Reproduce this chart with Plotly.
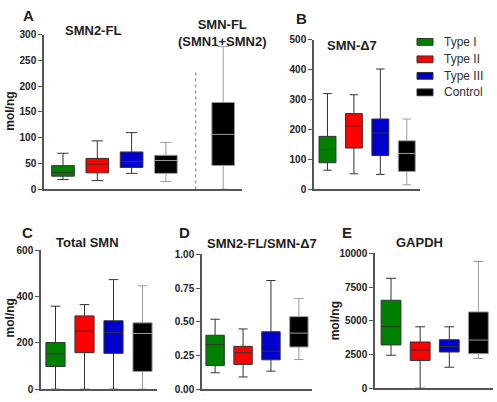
import plotly.graph_objects as go

groups = ["Type I", "Type II", "Type III", "Control"]
fills = ["#008000", "#ff0000", "#0000cc", "#000000"]
lines = ["#333333", "#333333", "#333333", "#9a9a9a"]

# Panel A: SMN2-FL (mol/ng)
smn2fl_low = [19, 17, 31, 15]
smn2fl_q1 = [25.6, 32, 42.5, 31]
smn2fl_med = [32.5, 49, 54, 56]
smn2fl_q3 = [46, 60, 72.5, 66]
smn2fl_high = [70, 94, 110, 91]
# SMN-FL (SMN1+SMN2), controls: low, q1, median, q3, high
smnfl_ctrl = [0, 46.4, 106.6, 168.5, 277]

# Panel B: SMN-delta7
d7_low = [64, 52, 50, 15]
d7_q1 = [89, 138, 113, 60]
d7_med = [133, 212, 188, 120]
d7_q3 = [177, 253, 235, 162]
d7_high = [320, 316, 402, 235]

# Panel C: Total SMN
tot_low = [0, 0, 0, 0]
tot_q1 = [98, 158, 155, 77]
tot_med = [152, 251, 244, 241]
tot_q3 = [202, 317, 296, 287]
tot_high = [359, 366, 474, 447]

# Panel D: SMN2-FL / SMN-delta7
ratio_low = [0.122, 0.091, 0.134, 0.22]
ratio_q1 = [0.175, 0.184, 0.218, 0.313]
ratio_med = [0.33, 0.27, 0.282, 0.416]
ratio_q3 = [0.40, 0.318, 0.426, 0.538]
ratio_high = [0.519, 0.447, 0.806, 0.672]

# Panel E: GAPDH
gapdh_low = [2446, 0, 1559, 2206]
gapdh_q1 = [3213, 2062, 2686, 2566]
gapdh_med = [4556, 2830, 3094, 3573]
gapdh_q3 = [6523, 3429, 3597, 5659]
gapdh_high = [8153, 4556, 4556, 9400]

W, H = 497, 402
def px(p): return p / W
def py(p): return 1 - p / H

FONT = "Liberation Sans, Arial, sans-serif"
fig = go.Figure()

def add_boxes(xa, ya, low, q1, med, q3, high, width):
    for i in range(4):
        fig.add_trace(go.Box(
            x=[i], lowerfence=[low[i]], q1=[q1[i]], median=[med[i]], q3=[q3[i]],
            upperfence=[high[i]], name=groups[i], width=width,
            fillcolor=fills[i], line=dict(color=lines[i], width=1),
            whiskerwidth=0.5, xaxis=xa, yaxis=ya, showlegend=False,
            hoverinfo="skip"))

add_boxes("x", "y", smn2fl_low, smn2fl_q1, smn2fl_med, smn2fl_q3, smn2fl_high, 0.66)
fig.add_trace(go.Box(
    x=[4.67], lowerfence=[smnfl_ctrl[0]], q1=[smnfl_ctrl[1]], median=[smnfl_ctrl[2]],
    q3=[smnfl_ctrl[3]], upperfence=[smnfl_ctrl[4]], name="SMN-FL", width=0.66,
    fillcolor=fills[3], line=dict(color=lines[3], width=1), whiskerwidth=0.5,
    xaxis="x", yaxis="y", showlegend=False, hoverinfo="skip"))
add_boxes("x2", "y2", d7_low, d7_q1, d7_med, d7_q3, d7_high, 0.64)
add_boxes("x3", "y3", tot_low, tot_q1, tot_med, tot_q3, tot_high, 0.66)
add_boxes("x4", "y4", ratio_low, ratio_q1, ratio_med, ratio_q3, ratio_high, 0.66)
add_boxes("x5", "y5", gapdh_low, gapdh_q1, gapdh_med, gapdh_q3, gapdh_high, 0.68)

AX = dict(showgrid=False, zeroline=False, showline=True, linecolor="#555555",
          linewidth=1.5, fixedrange=True)
XAX = dict(AX, showticklabels=False, ticks="")
YAX = dict(AX, ticks="outside", ticklen=4, tickwidth=1.2, tickcolor="#555555",
           tickfont=dict(family=FONT, size=10, color="#222222", weight="bold"))

panels = [
    # x domain px, y domain px, x range, y range, tickvals, tickformat
    ((44, 241.7), (29.5, 189), (-0.554, 5.21), (0, 300), [0, 50, 100, 150, 200, 250, 300], "d"),
    ((314, 420), (34.7, 189), (-0.51, 3.5), (0, 500), [0, 100, 200, 300, 400, 500], "d"),
    ((41, 157), (252, 395), (-0.5, 3.5), (0, 600), [0, 200, 400, 600], "d"),
    ((202, 312), (256, 395), (-0.47, 3.47), (0, 1), [0, 0.25, 0.5, 0.75, 1.0], ".2f"),
    ((375, 493), (255, 394), (-0.55, 3.5), (0, 10000), [0, 2500, 5000, 7500, 10000], "d"),
]
layout = {}
for k, (xd, yd, xr, yr, tv, tf) in enumerate(panels, start=1):
    sfx = "" if k == 1 else str(k)
    layout["xaxis" + sfx] = dict(XAX, domain=[px(xd[0]), px(xd[1])], range=list(xr),
                                 anchor="y" + sfx)
    layout["yaxis" + sfx] = dict(YAX, domain=[py(yd[1]), py(yd[0])], range=list(yr),
                                 tickvals=tv, tickformat=tf, anchor="x" + sfx)

fig.update_layout(**layout)

shapes = [dict(type="line", xref="x", yref="y", x0=3.87, x1=3.87, y0=0, y1=230,
               line=dict(color="#777777", width=1, dash="dot"))]
ann = []
def text(x, y, s, size=13, bold=True, xanchor="center", angle=0, color="#222222"):
    ann.append(dict(x=px(x), y=py(y), xref="paper", yref="paper", text=s,
                    showarrow=False, xanchor=xanchor, yanchor="middle", textangle=angle,
                    font=dict(family=FONT, size=size, color=color,
                              weight="bold" if bold else "normal")))

text(28, 10, "A", size=15)
text(301, 13, "B", size=15)
text(27, 233, "C", size=15)
text(184, 233, "D", size=15)
text(347, 233, "E", size=15)
text(92.5, 25, "SMN2-FL")
text(222, 28, "SMN-FL<br>(SMN1+SMN2)")
text(352, 41, "SMN-\u03947")
text(87, 244, "Total SMN")
text(262, 245, "SMN2-FL/SMN-\u03947")
text(419, 244, "GAPDH")
text(10, 109, "mol/ng", size=12, angle=-90)
text(10, 322, "mol/ng", size=12, angle=-90)
text(334.5, 324.5, "mol/ng", size=12, angle=-90)

leg_y = [37, 55, 72, 89]
for i, g in enumerate(groups):
    shapes.append(dict(type="rect", xref="paper", yref="paper",
                       x0=px(417), x1=px(433), y0=py(leg_y[i] + 3.5), y1=py(leg_y[i] - 3.5),
                       fillcolor=fills[i], line=dict(color="#333333", width=1)))
    text(442, leg_y[i], g, size=12, bold=False, xanchor="left", color="#333333")

fig.update_layout(width=W, height=H, margin=dict(l=0, r=0, t=0, b=0),
                  paper_bgcolor="white", plot_bgcolor="white", showlegend=False,
                  shapes=shapes, annotations=ann, font=dict(family=FONT))
fig.write_html("out.html", config={"displayModeBar": False},
               post_script="document.body.style.margin='0';document.body.style.overflow='hidden';")
